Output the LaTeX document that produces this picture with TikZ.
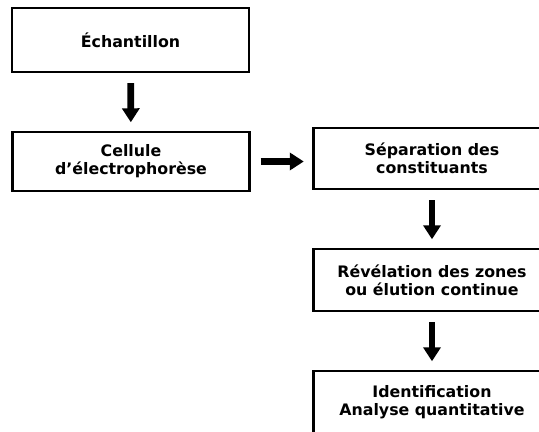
\documentclass[tikz,border=0pt]{standalone}
\usepackage{fontspec}
\setmainfont{DejaVu Sans}
\usetikzlibrary{arrows.meta}

\begin{document}
\begin{tikzpicture}[x=0.02cm,y=-0.02cm,
	box/.style={rectangle, draw=black, line width=1.4pt, minimum width=4.74cm, minimum height=1.22cm, align=center, inner sep=0pt, font=\bfseries\fontsize{9}{10.2}\selectfont},
	flow/.style={line width=3.8pt, -{Triangle[length=0.28cm, width=0.34cm]}, shorten <=0.2cm, shorten >=0.17cm},
	>=Triangle]

	\useasboundingbox (0,0) rectangle (539,432);
	\clip (0,0) rectangle (539,432);

	%Nodes
	\node[box, minimum height=1.28cm]	(sample)	at (130.5,40)	{Échantillon};
	\node[box, minimum height=1.18cm]	(cell)	at (131,161.5)	{Cellule\\d’électrophorèse};
	\node[box]	(sep)	at (432,158.5)	{Séparation des\\constituants};
	\node[box, minimum height=1.24cm]	(rev)	at (432,280)	{Révélation des zones\\ou élution continue};
	\node[box, minimum height=1.24cm]	(ident)	at (432,402)	{Identification\\Analyse quantitative};

	%Lines
	\draw[flow] (sample) -- (cell);
	\draw[flow] (cell.east) -- (cell.east -| sep.west);
	\draw[flow] (sep) -- (rev);
	\draw[flow] (rev) -- (ident);
\end{tikzpicture}
\end{document}
